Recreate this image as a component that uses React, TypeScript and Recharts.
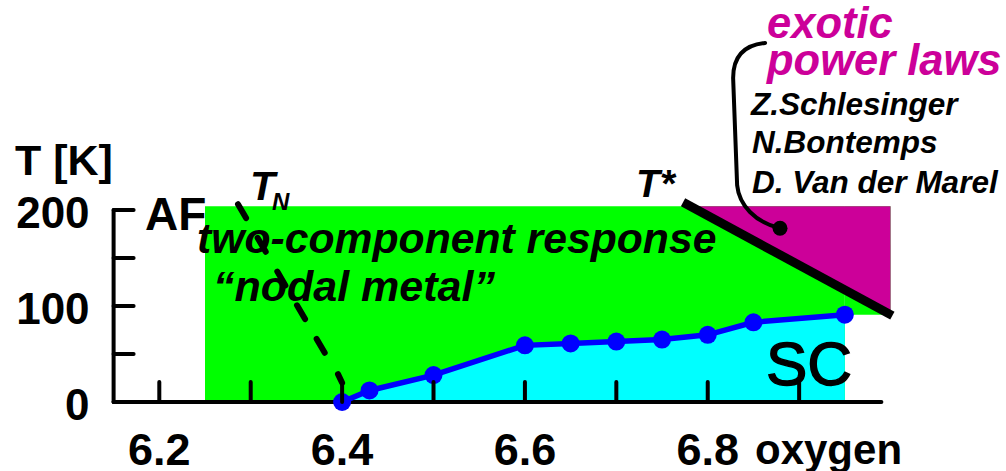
import React from 'react';
import {
  ComposedChart,
  Area,
  Line,
  XAxis,
  YAxis,
  ReferenceArea,
  ReferenceLine,
  ReferenceDot,
} from 'recharts';

// Superconducting dome: oxygen content vs. Tc [K]
const oxygen = [6.4, 6.43, 6.5, 6.6, 6.65, 6.7, 6.75, 6.8, 6.85, 6.95];
const tc = [0, 12, 28, 59, 61, 63, 65, 70, 83, 91];

// Axis ticks and which of them carry a label
const xTicks = [6.2, 6.3, 6.4, 6.5, 6.6, 6.7, 6.8, 6.9];
const xLabels = [6.2, 6.4, 6.6, 6.8];
const yTicks = [0, 50, 100, 150, 200];
const yLabels = [0, 100, 200];
const xDomain = [6.15, 6.99];
const yDomain = [0, 200];

// Phase regions
const metalX = [6.25, 7.0];
const metalTop = 204;
const scEdge = 6.95;

// Néel temperature boundary (dashed) and pseudogap T* boundary
const tnMain = [
  { x: 6.2861, y: 206 },
  { x: 6.3934, y: 31 },
];
const tnTail = [
  { x: 6.3955, y: 29 },
  { x: 6.4, y: 20 },
];
const tStar = [
  { x: 6.773, y: 208 },
  { x: 7.002, y: 90 },
];
const exoticRegion = { x1: 6.7826, x2: 7.0, y1: 90, y2: 204 };

// Leader from the "exotic power laws" caption into its region
const leader = [
  { x: 6.8628, y: 374 },
  { x: 6.8791, y: 181 },
];

const data = oxygen.map((x, i) => ({ x, t: tc[i] }));

const FONT = "'Liberation Sans', Arial, Helvetica, sans-serif";
const GREEN = '#00ff00';
const CYAN = '#00ffff';
const BLUE = '#0000ff';
const MAGENTA = '#cc0099';

const near = (a: number, b: number) => Math.abs(a - b) < 1e-6;

const XTick = (props: any) => {
  const { x, y, payload } = props;
  const v = payload.value as number;
  const labelled = xLabels.some((l) => near(l, v));
  return (
    <g>
      <line x1={x} x2={x} y1={y} y2={y - 20} stroke="#000" strokeWidth={4} strokeLinecap="round" />
      {labelled && (
        <text x={x} y={y + 63} textAnchor="middle" fontFamily={FONT} fontWeight="bold" fontSize={45} fill="#000">
          {v.toFixed(1)}
        </text>
      )}
    </g>
  );
};

const YTick = (props: any) => {
  const { x, y, payload } = props;
  const v = payload.value as number;
  const labelled = yLabels.some((l) => near(l, v));
  return (
    <g>
      <line x1={x} x2={x + 20} y1={y} y2={y} stroke="#000" strokeWidth={4} strokeLinecap="round" />
      {labelled && (
        <text x={x - 24} y={y + 18} textAnchor="end" fontFamily={FONT} fontWeight="bold" fontSize={44} fill="#000">
          {v}
        </text>
      )}
    </g>
  );
};

const Triangle = (p: any) => (
  <polygon
    points={`${p.x},${p.y} ${p.x + p.width},${p.y} ${p.x + p.width},${p.y + p.height}`}
    fill={MAGENTA}
    stroke="none"
  />
);

const Bracket = (p: any) => {
  const { x1, y1, x2, y2 } = p;
  const d = `M${x1},${y1} C${x1 - 20},${y1 + 2} ${x1 - 32},${y1 + 12} ${x1 - 32},${y1 + 35} L${x1 - 28},${y2 - 43} C${x1 - 26},${y2 - 23} ${x2 - 25},${y2 - 6} ${x2},${y2}`;
  return <path d={d} fill="none" stroke="#000" strokeWidth={4} strokeLinecap="round" />;
};

const txt = (extra: any = {}) => ({
  fontFamily: FONT,
  fontWeight: 'bold' as const,
  fill: '#000',
  ...extra,
});

export default function App() {
  return (
    <div style={{ position: 'absolute', left: 0, top: 0, width: 1006, height: 471, background: '#fff' }}>
      <svg width={1006} height={471} style={{ position: 'absolute', left: 0, top: 0 }}>
        <text x={145} y={230} fontSize={46} {...txt()}>AF</text>
      </svg>
      <div style={{ position: 'absolute', left: 0, top: 0 }}>
        <ComposedChart
          width={1006}
          height={471}
          data={data}
          margin={{ top: 210, right: 124.6, bottom: 0, left: 13.6 }}
        >
          <ReferenceArea
            x1={metalX[0]}
            x2={scEdge}
            y1={0}
            y2={metalTop}
            fill={GREEN}
            fillOpacity={1}
            stroke="none"
            ifOverflow="visible"
            zIndex={100}
          />
          <ReferenceArea
            x1={scEdge}
            x2={metalX[1]}
            y1={tc[tc.length - 1]}
            y2={metalTop}
            fill={GREEN}
            fillOpacity={1}
            stroke="none"
            ifOverflow="visible"
            zIndex={100}
          />
          <ReferenceArea
            x1={exoticRegion.x1}
            x2={exoticRegion.x2}
            y1={exoticRegion.y1}
            y2={exoticRegion.y2}
            shape={Triangle}
            ifOverflow="visible"
            zIndex={101}
          />
          <Area
            dataKey="t"
            type="linear"
            fill={CYAN}
            fillOpacity={1}
            stroke="none"
            isAnimationActive={false}
            dot={false}
            activeDot={false}
            zIndex={150}
          />
          <XAxis
            type="number"
            dataKey="x"
            domain={xDomain}
            ticks={xTicks}
            interval={0}
            height={69}
            tickSize={0}
            tickMargin={0}
            tickLine={false}
            tick={<XTick />}
            axisLine={{ stroke: '#000', strokeWidth: 4, strokeLinecap: 'round' }}
          />
          <YAxis
            type="number"
            domain={yDomain}
            ticks={yTicks}
            interval={0}
            width={100}
            tickSize={0}
            tickMargin={0}
            tickLine={false}
            tick={<YTick />}
            axisLine={{ stroke: '#000', strokeWidth: 4, strokeLinecap: 'round' }}
          />
          <Line
            dataKey="t"
            type="linear"
            stroke={BLUE}
            strokeWidth={5.5}
            dot={{ r: 9, fill: BLUE, stroke: 'none' }}
            activeDot={false}
            isAnimationActive={false}
            zIndex={600}
          />
          <ReferenceLine
            segment={tnMain}
            stroke="#000"
            strokeWidth={6}
            strokeDasharray="16 23"
            strokeLinecap="round"
            ifOverflow="visible"
            zIndex={700}
          />
          <ReferenceLine
            segment={tnTail}
            stroke="#000"
            strokeWidth={6}
            strokeLinecap="round"
            ifOverflow="visible"
            zIndex={700}
          />
          <ReferenceLine
            segment={tStar}
            stroke="#000"
            strokeWidth={9}
            ifOverflow="visible"
            zIndex={700}
          />
          <ReferenceLine segment={leader} shape={Bracket} ifOverflow="visible" zIndex={700} />
          <ReferenceDot
            x={leader[1].x}
            y={leader[1].y}
            r={7.5}
            fill="#000"
            stroke="none"
            ifOverflow="visible"
            zIndex={700}
          />
        </ComposedChart>
      </div>
      <svg
        width={1006}
        height={471}
        style={{ position: 'absolute', left: 0, top: 0, pointerEvents: 'none' }}
      >
        <text x={15} y={175} fontSize={43} {...txt()}>T [K]</text>
        <text x={250} y={200} fontSize={41} fontStyle="italic" {...txt()}>T</text>
        <text x={272} y={210} fontSize={24} fontStyle="italic" {...txt()}>N</text>
        <text x={636} y={197} fontSize={39} fontStyle="italic" {...txt()}>T*</text>
        <text x={197} y={253} fontSize={42.7} fontStyle="italic" {...txt()}>two-component response</text>
        <text x={213} y={301} fontSize={43} fontStyle="italic" {...txt()}>“nodal metal”</text>
        <text x={766} y={385} fontSize={62} stroke="#000" strokeWidth={1.4} {...txt({ fontWeight: 'normal' })}>SC</text>
        <text x={767} y={38} fontSize={43.5} fontStyle="italic" {...txt({ fill: MAGENTA })}>exotic</text>
        <text x={767} y={75} fontSize={43.5} fontStyle="italic" {...txt({ fill: MAGENTA })}>power laws</text>
        <text x={751} y={115} fontSize={31.5} fontStyle="italic" {...txt()}>Z.Schlesinger</text>
        <text x={752} y={153} fontSize={31.5} fontStyle="italic" {...txt()}>N.Bontemps</text>
        <text x={752} y={193} fontSize={31.5} fontStyle="italic" {...txt()}>D. Van der Marel</text>
        <text x={755} y={464} fontSize={42} {...txt()}>oxygen</text>
      </svg>
    </div>
  );
}
